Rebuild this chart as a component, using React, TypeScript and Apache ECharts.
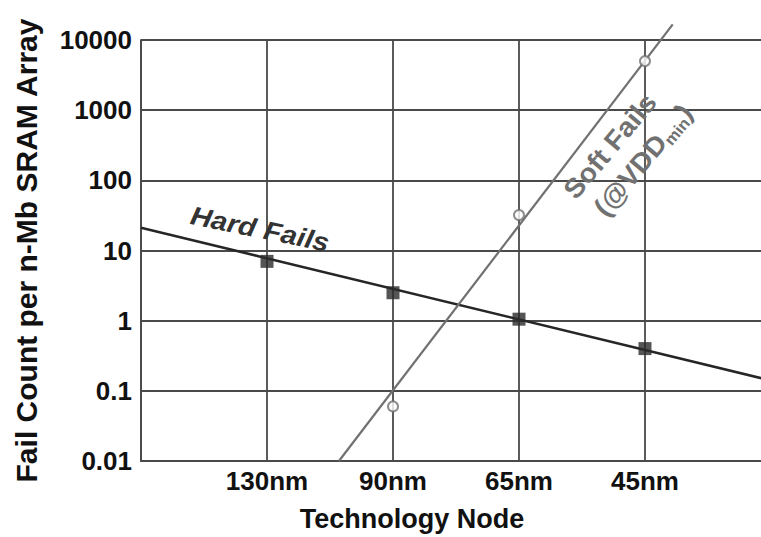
import React, { useEffect, useRef } from "react";
import * as echarts from "echarts";

// Categories on the x axis (technology nodes) and their positions
const categories = ["130nm", "90nm", "65nm", "45nm"];
const categoryPos = [1, 2, 3, 4];

// Measured points
const hardFails = [7, 2.5, 1.05, 0.4]; // 130, 90, 65, 45 nm
const softNodes = ["90nm", "65nm", "45nm"];
const softFails = [0.06, 32, 5000];

// Trend (fit) lines: endpoints in axis units
const hardFitX = [0, 5];
const hardFitY = [21.1, 0.14];
const softFitX = [1.571, 4.22];
const softFitY = [0.01, 16700];

// Y tick labels (decades from 0.01 to 10000)
const yTickLabels = ["0.01", "0.1", "1", "10", "100", "1000", "10000"];

const FONT = "'Liberation Sans', Arial, Helvetica, sans-serif";

export default function App() {
  const ref = useRef<HTMLDivElement>(null);

  useEffect(() => {
    if (!ref.current) return;
    const chart = echarts.init(ref.current, null, { renderer: "svg" });

    const hardData = categoryPos.map((p, i) => [p, hardFails[i]]);
    const softData = softNodes.map((n, i) => [
      categoryPos[categories.indexOf(n)],
      softFails[i],
    ]);
    const hardFit = hardFitX.map((x, i) => [x, hardFitY[i]]);
    const softFit = softFitX.map((x, i) => [x, softFitY[i]]);

    const gridColor = "#4a4a4a";
    const softColor = "#717171";

    chart.setOption({
      animation: false,
      backgroundColor: "#ffffff",
      grid: {
        left: 141,
        top: 40,
        width: 630,
        height: 421,
        containLabel: false,
        outerBoundsMode: "none",
      },
      xAxis: {
        type: "value",
        min: 0,
        max: 5,
        interval: 1,
        axisLine: { show: true, lineStyle: { color: gridColor, width: 1.8 } },
        axisTick: { show: false },
        splitLine: { show: true, lineStyle: { color: gridColor, width: 1.8 } },
        axisLabel: {
          margin: 7,
          fontFamily: FONT,
          fontWeight: "bold",
          fontSize: 26,
          color: "#111",
          formatter: (v: number) => {
            const i = categoryPos.indexOf(Math.round(v));
            return i >= 0 ? categories[i] : "";
          },
        },
        name: "Technology Node",
        nameLocation: "middle",
        nameGap: 44,
        nameTextStyle: {
          fontFamily: FONT,
          fontWeight: "bold",
          fontSize: 27,
          color: "#111",
          padding: [0, 88, 0, 0],
        },
      },
      yAxis: {
        type: "log",
        logBase: 10,
        min: 0.01,
        max: 10000,
        interval: 1,
        axisLine: { show: true, lineStyle: { color: gridColor, width: 1.8 } },
        axisTick: { show: false },
        splitLine: { show: true, lineStyle: { color: gridColor, width: 1.8 } },
        axisLabel: {
          margin: 9,
          fontFamily: FONT,
          fontWeight: "bold",
          fontSize: 26,
          color: "#111",
          formatter: (v: number) => {
            const e = Math.round(Math.log10(v));
            return yTickLabels[e + 2] ?? "";
          },
        },
        name: "Fail Count per n-Mb SRAM Array",
        nameLocation: "middle",
        nameRotate: 90,
        nameGap: 100,
        nameTextStyle: {
          fontFamily: FONT,
          fontWeight: "bold",
          fontSize: 30,
          color: "#111",
        },
      },
      series: [
        {
          name: "Hard Fails fit",
          type: "line",
          data: hardFit,
          symbol: "none",
          lineStyle: { color: "#262626", width: 2.5 },
          z: 3,
        },
        {
          name: "Soft Fails fit",
          type: "line",
          data: softFit,
          symbol: "none",
          clip: false,
          lineStyle: { color: softColor, width: 2.2 },
          z: 3,
        },
        {
          name: "Hard Fails",
          type: "scatter",
          data: hardData,
          symbol: "rect",
          symbolSize: 13,
          itemStyle: { color: "#2a2a2a" },
          z: 4,
        },
        {
          name: "Soft Fails",
          type: "scatter",
          data: softData,
          symbol: "emptyCircle",
          symbolSize: 10,
          itemStyle: { color: softColor, borderWidth: 2 },
          z: 4,
        },
      ],
      graphic: [
        {
          type: "text",
          x: 260,
          y: 229,
          rotation: -0.2,
          scaleX: 1.12,
          style: {
            text: "Hard Fails",
            fontFamily: FONT,
            fontWeight: "bold",
            fontStyle: "italic",
            fontSize: 26,
            fill: "#333333",
            align: "center",
            verticalAlign: "middle",
          },
          z: 10,
        },
        {
          type: "text",
          x: 610,
          y: 146,
          rotation: 0.873,
          scaleX: 1.05,
          style: {
            text: "Soft Fails",
            fontFamily: FONT,
            fontWeight: "bold",
            fontSize: 27,
            fill: softColor,
            align: "center",
            verticalAlign: "middle",
          },
          z: 10,
        },
        {
          type: "text",
          x: 643,
          y: 160,
          rotation: 0.873,
          scaleX: 1.05,
          style: {
            text: "(@VDD{sub|min})",
            fontFamily: FONT,
            fontWeight: "bold",
            fontSize: 27,
            fill: softColor,
            align: "center",
            verticalAlign: "middle",
            rich: {
              sub: {
                fontFamily: FONT,
                fontWeight: "bold",
                fontSize: 16,
                fill: softColor,
                verticalAlign: "bottom",
                lineHeight: 31,
              },
            },
          },
          z: 10,
        },
      ],
    });

    return () => chart.dispose();
  }, []);

  return (
    <div
      ref={ref}
      style={{ position: "fixed", left: 0, top: 0, width: 761, height: 537 }}
    />
  );
}
